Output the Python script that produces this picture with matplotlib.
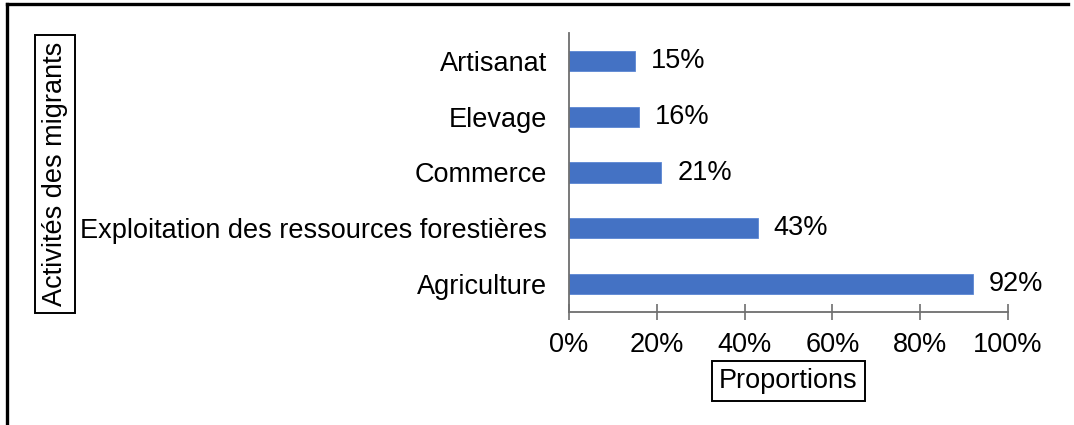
import matplotlib
matplotlib.use("Agg")
import matplotlib.pyplot as plt
from matplotlib.lines import Line2D
from matplotlib.ticker import PercentFormatter

categories = ["Agriculture", "Exploitation des ressources forestières", "Commerce", "Elevage", "Artisanat"]
values = [92, 43, 21, 16, 15]
xticks = [0, 20, 40, 60, 80, 100]

plt.rcParams['font.family'] = ['Liberation Sans', 'DejaVu Sans']
FS = 19.5
W, H = 1074, 425
fig = plt.figure(figsize=(W / 100, H / 100), dpi=100)
ax = fig.add_axes([569 / W, 1 - 312 / H, (1008 - 569) / W, (312 - 33) / H])

bars = ax.barh(range(len(categories)), values, height=0.36, color="#4472C4",
               edgecolor="#5b86d3", linewidth=0.6)
ax.bar_label(bars, labels=[f"{v}%" for v in values], padding=11.5, fontsize=FS)

ax.set_xlim(0, 100)
ax.set_ylim(-0.5, len(categories) - 0.5)
ax.set_yticks(range(len(categories)))
ax.set_yticklabels(categories, fontsize=FS)
ax.set_xticks(xticks)
ax.xaxis.set_major_formatter(PercentFormatter(decimals=0))
ax.tick_params(axis='x', direction='inout', length=12, width=1.2, color='#6e6e6e',
               labelsize=FS, pad=8.5)
ax.tick_params(axis='y', length=0, pad=16, labelsize=FS)

for s in ['top', 'right']:
    ax.spines[s].set_visible(False)
for s in ['left', 'bottom']:
    ax.spines[s].set_color('#6e6e6e')
    ax.spines[s].set_linewidth(1.3)

box = dict(boxstyle='square,pad=0.25', fc='white', ec='black', lw=1.4)
ax.set_xlabel("Proportions", fontsize=FS, bbox=box)
ax.xaxis.set_label_coords(0.5, (312 - 381) / (312 - 33))
ax.xaxis.label.set_va('center')
ax.set_ylabel("Activités des migrants", fontsize=FS, bbox=box)
ax.yaxis.set_label_coords((55 - 569) / (1008 - 569), (312 - 174) / (312 - 33))
ax.yaxis.label.set_va('center')

# figure frame (top and left edges)
fig.add_artist(Line2D([7 / W, 1068 / W], [1 - 4 / H, 1 - 4 / H], color='black', lw=2.4,
                      transform=fig.transFigure))
fig.add_artist(Line2D([7 / W, 7 / W], [1 - 4 / H, 0], color='black', lw=2.4,
                      transform=fig.transFigure))

fig.savefig("out.png", dpi=100)
